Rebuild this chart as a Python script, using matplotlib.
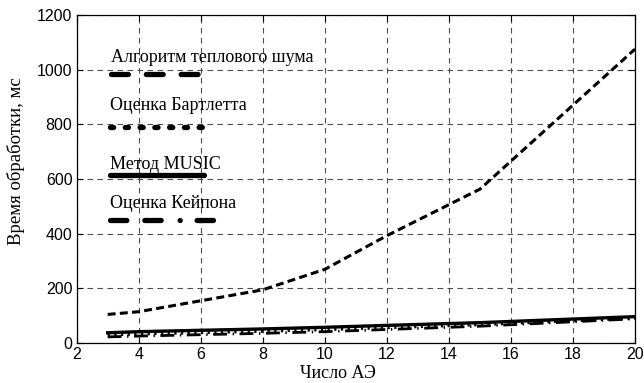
import matplotlib
matplotlib.use("Agg")
import matplotlib.pyplot as plt
from matplotlib.lines import Line2D
from matplotlib.legend import Legend

# Данные
chislo_ae = [3, 4, 8, 10, 12, 15, 20]
t_teplovoy = [105, 115, 195, 270, 393, 563, 1075]
t_bartlett = [30, 33, 43, 49, 56, 67, 91]
t_music = [38, 42, 52, 58, 65, 75, 97]
t_capon = [23, 26, 36, 42, 50, 62, 89]

nazvaniya = ["Алгоритм теплового шума", "Оценка Бартлетта", "Метод MUSIC", "Оценка Кейпона"]
x_ticks = list(range(2, 21, 2))
y_ticks = list(range(0, 1201, 200))

serif = "Liberation Serif"
sans = "Liberation Sans"

fig = plt.figure(figsize=(6.44, 3.83), dpi=100)
ax = fig.add_axes([0.119, 0.104, 0.867, 0.857])

# стили линий
st_tepl = (0, (2.6, 1.4))
st_bart = (0, (0.8, 1.6))
st_capon = (0, (5, 2, 0.5, 2))

ax.plot(chislo_ae, t_teplovoy, color="black", lw=2.2, linestyle=st_tepl)
ax.plot(chislo_ae, t_bartlett, color="black", lw=2.0, linestyle=st_bart)
ax.plot(chislo_ae, t_music, color="black", lw=2.4, linestyle="-")
ax.plot(chislo_ae, t_capon, color="black", lw=2.0, linestyle=st_capon)

ax.set_xlim(2, 20)
ax.set_ylim(0, 1200)
ax.set_xticks(x_ticks)
ax.set_yticks(y_ticks)
ax.grid(True, color="0.3", linestyle=(0, (5, 4)), linewidth=0.8)
ax.tick_params(direction="in", top=True, right=True, length=4, labelsize=11.5, pad=3)
for lab in ax.get_xticklabels() + ax.get_yticklabels():
    lab.set_fontfamily(sans)
for sp in ax.spines.values():
    sp.set_linewidth(0.9)

ax.set_xlabel("Число АЭ", family=serif, fontsize=13)
ax.set_ylabel("Время обработки, мс", family=serif, fontsize=13.5)
ax.xaxis.set_label_coords(0.468, -0.065)
ax.yaxis.set_label_coords(-0.092, 0.555)

# Подписи-легенда: название над образцом линии
obrazcy = [
    Line2D([], [], color="black", lw=3.8, linestyle=(0, (3.2, 3.4)), dash_capstyle="round"),
    Line2D([], [], color="black", lw=3.8, linestyle=(0, (0.6, 2.2)), dash_capstyle="round"),
    Line2D([], [], color="black", lw=3.8, linestyle="-", solid_capstyle="round"),
    Line2D([], [], color="black", lw=3.8, linestyle=(0, (3.1, 3.4, 3.1, 3.6, 0.01, 3.2, 3.1, 4)),
           dash_capstyle="round"),
]
polozh = [(0.062, 0.897), (0.06, 0.75), (0.06, 0.569), (0.06, 0.452)]
dliny = [5.2, 5.4, 5.2, 6.2]
otstupy = [0.0, 0.27, -0.4, 0.0]

for obr, naz, pos, dl, ot in zip(obrazcy, nazvaniya, polozh, dliny, otstupy):
    leg = Legend(ax, [obr], [""], title=naz, loc="upper left",
                 bbox_to_anchor=pos, frameon=False, alignment="left",
                 handlelength=dl, handleheight=0.4, labelspacing=ot,
                 borderpad=0, borderaxespad=0,
                 title_fontproperties={"family": serif, "size": 13},
                 fontsize=13)
    ax.add_artist(leg)

fig.savefig("out.png", dpi=100)
